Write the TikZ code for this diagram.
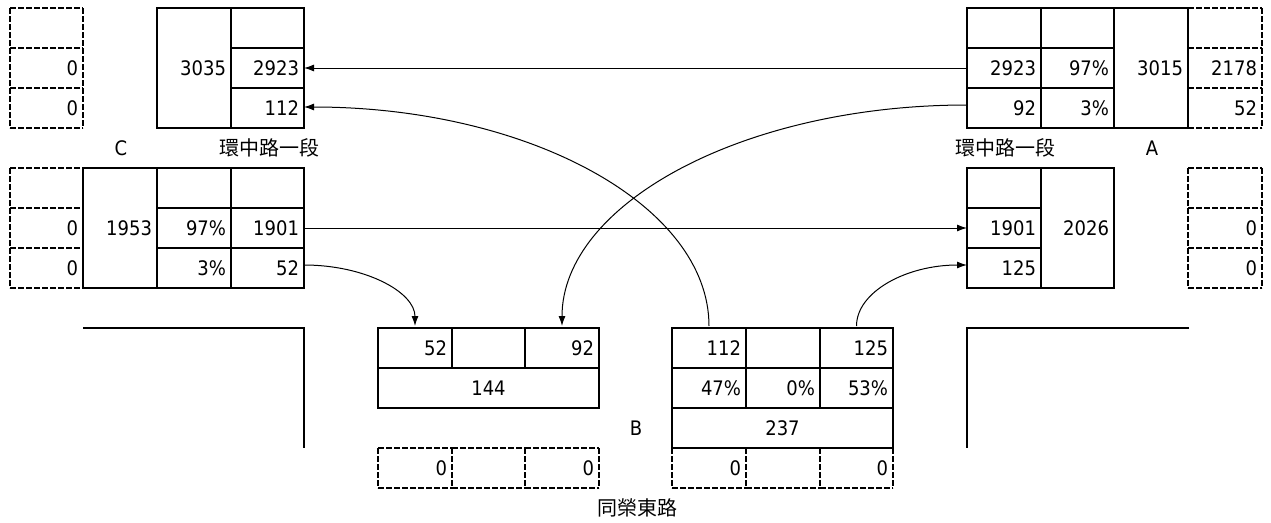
\documentclass[tikz,border=0pt]{standalone}
\usepackage{fontspec}
\setmainfont{DejaVu Sans Condensed}
\newfontfamily\cjkfont{Noto Sans CJK TC}
\usetikzlibrary{arrows.meta}
\tikzset{
  cellbox/.style={draw=black,line width=1.8pt,rectangle,inner xsep=5pt,inner ysep=0pt,outer sep=0pt,anchor=north west,align=right,text height=14.6pt,text depth=0pt},
  dashbox/.style={cellbox,draw=none},
  dashedge/.style={line width=1.8pt,dash pattern=on 5.5pt off 2.5pt},
  midbox/.style={cellbox,align=center},
  flow/.style={line width=1pt,-{Latex[length=10pt,width=7pt]}},
  lbl/.style={inner sep=0pt,outer sep=0pt},
  road/.style={line width=1.8pt},
}
% \cellat[style]{x1}{y1}{x2}{y2}{text} : node named <x1>x<y1>
\newcommand{\cellat}[6][cellbox]{%
  \pgfmathsetmacro{\cw}{#4-#2}\pgfmathsetmacro{\ch}{#5-#3}\pgfmathsetmacro{\tw}{\cw-10}%
  \node[#1,minimum width=\cw pt,minimum height=\ch pt,text width=\tw pt] (#2x#3) at (#2,#3) {#6};%
}
% dashed cell: every edge runs left to right or top to bottom, so shared edges stay in phase
\newcommand{\dashcell}[5]{%
  \cellat[dashbox]{#1}{#2}{#3}{#4}{#5}%
  \draw[dashedge] (#1x#2.north west) -- (#1x#2.north east);%
  \draw[dashedge] (#1x#2.south west) -- (#1x#2.south east);%
  \draw[dashedge] (#1x#2.north west) -- (#1x#2.south west);%
  \draw[dashedge] (#1x#2.north east) -- (#1x#2.south east);%
}
\begin{document}
\begin{tikzpicture}[x=1pt,y=-1pt,font=\fontsize{20pt}{24pt}\selectfont]
\useasboundingbox[fill=white] (0,0) rectangle (1271,522);
% dashed groups first
\dashcell{10}{8}{83}{48}{}
\dashcell{10}{48}{83}{88}{0}
\dashcell{10}{88}{83}{128}{0}
\dashcell{10}{168}{83}{208}{}
\dashcell{10}{208}{83}{248}{0}
\dashcell{10}{248}{83}{288}{0}
\dashcell{1188}{8}{1262}{48}{}
\dashcell{1188}{48}{1262}{88}{2178}
\dashcell{1188}{88}{1262}{128}{52}
\dashcell{1188}{168}{1262}{208}{}
\dashcell{1188}{208}{1262}{248}{0}
\dashcell{1188}{248}{1262}{288}{0}
\dashcell{378}{448}{452}{488}{0}
\dashcell{452}{448}{525}{488}{}
\dashcell{525}{448}{599}{488}{0}
\dashcell{672}{448}{746}{488}{0}
\dashcell{746}{448}{820}{488}{}
\dashcell{820}{448}{893}{488}{0}
% top left table
\cellat{157}{8}{231}{128}{3035}
\cellat{231}{8}{304}{48}{}
\cellat{231}{48}{304}{88}{2923}
\cellat{231}{88}{304}{128}{112}
% lower left table
\cellat{83}{168}{157}{288}{1953}
\cellat{157}{168}{231}{208}{}
\cellat{157}{208}{231}{248}{97\%}
\cellat{157}{248}{231}{288}{3\%}
\cellat{231}{168}{304}{208}{}
\cellat{231}{208}{304}{248}{1901}
\cellat{231}{248}{304}{288}{52}
% top right table
\cellat{967}{8}{1041}{48}{}
\cellat{967}{48}{1041}{88}{2923}
\cellat{967}{88}{1041}{128}{92}
\cellat{1041}{8}{1114}{48}{}
\cellat{1041}{48}{1114}{88}{97\%}
\cellat{1041}{88}{1114}{128}{3\%}
\cellat{1114}{8}{1188}{128}{3015}
% lower right table
\cellat{967}{168}{1041}{208}{}
\cellat{967}{208}{1041}{248}{1901}
\cellat{967}{248}{1041}{288}{125}
\cellat{1041}{168}{1114}{288}{2026}
% bottom left table
\cellat{378}{328}{452}{368}{52}
\cellat{452}{328}{525}{368}{}
\cellat{525}{328}{599}{368}{92}
\cellat[midbox]{378}{368}{599}{408}{144}
% bottom right table
\cellat{672}{328}{746}{368}{112}
\cellat{746}{328}{820}{368}{}
\cellat{820}{328}{893}{368}{125}
\cellat{672}{368}{746}{408}{47\%}
\cellat{746}{368}{820}{408}{0\%}
\cellat{820}{368}{893}{408}{53\%}
\cellat[midbox]{672}{408}{893}{448}{237}
% labels
\node[lbl] (lc) at (121,148) {C};
\node[lbl] (la) at (1152,148) {A};
\node[lbl] (lb) at (636,428) {B};
\node[lbl,font=\fontsize{20pt}{24pt}\cjkfont] (rl) at (269,148) {環中路一段};
\node[lbl,font=\fontsize{20pt}{24pt}\cjkfont] (rr) at (1005,148) {環中路一段};
\node[lbl,font=\fontsize{20pt}{24pt}\cjkfont] (rb) at (637,508) {同榮東路};
% road kerbs
\coordinate (kl1) at (83,328); \coordinate (kl2) at (304,328); \coordinate (kl3) at (304,448);
\coordinate (kr1) at (1189,328); \coordinate (kr2) at (967,328); \coordinate (kr3) at (967,448);
\draw[road] (kl1) -- (kl2) -- (kl3);
\draw[road] (kr1) -- (kr2) -- (kr3);
% connectors
\draw[flow] (967x48.west) -- (231x48.east);
\draw[flow] (231x208.east) -- (967x208.west);
\draw[flow] ([yshift=3pt]967x88.west) .. controls +(-224,0) and +(0,-122) .. ([yshift=2pt]525x328.north);
\draw[flow] ([yshift=2pt]672x328.north) .. controls +(0,-121) and +(224,0) .. ([yshift=1pt]231x88.east);
\draw[flow] ([yshift=3pt]231x248.east) .. controls +(61,0) and +(0,-34) .. ([yshift=2pt]378x328.north);
\draw[flow] ([yshift=2pt]820x328.north) .. controls +(0,-34) and +(-61,0) .. ([yshift=3pt]967x248.west);
\end{tikzpicture}
\end{document}
